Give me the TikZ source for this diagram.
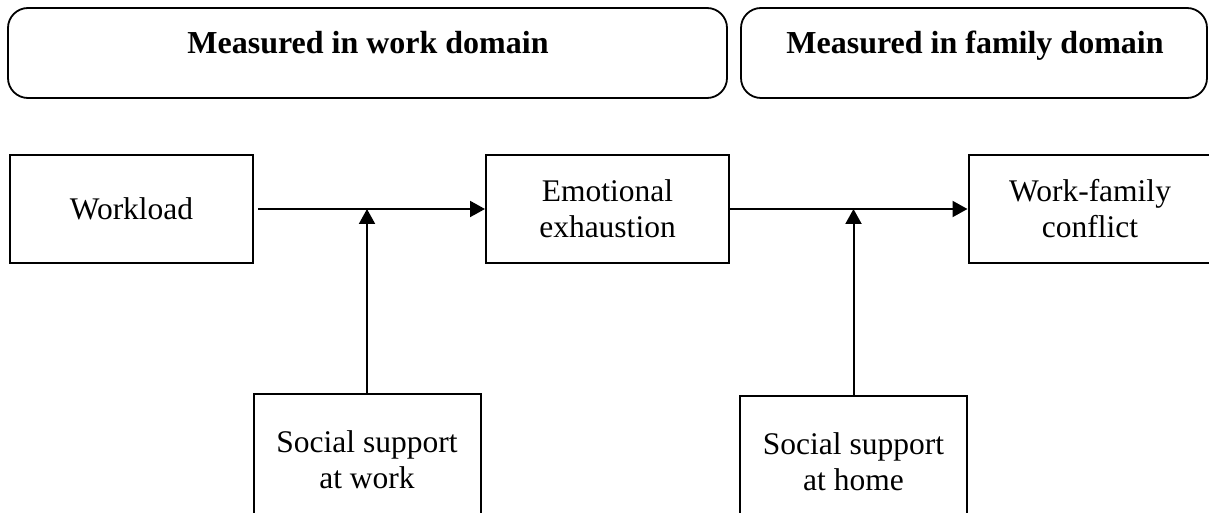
\documentclass[tikz,border=0pt]{standalone}
\usepackage{fontspec}
\setmainfont{Liberation Serif}
\usetikzlibrary{arrows.meta}
\tikzset{
  box/.style={draw=black,line width=1pt,minimum width=121.5pt,minimum height=54pt,
    inner sep=0pt,align=center,font=\fontsize{15.75}{18}\selectfont},
  lowbox/.style={box,minimum width=113.5pt,minimum height=66pt},
  dombox/.style={draw=black,line width=0.9pt,rounded corners=10pt,minimum height=45pt,inner sep=0pt},
  domlabel/.style={anchor=base,inner sep=0pt,font=\fontsize{16}{19}\selectfont\bfseries},
  arr/.style={line width=1pt,-{Triangle[length=7.5pt,width=8pt]}}
}
\begin{document}
\begin{tikzpicture}[x=0.5pt,y=-0.5pt]
  \useasboundingbox (0,0) rectangle (1209,513);
  \clip (0,0) rectangle (1209,513);
  % domain headers
  \node [dombox,minimum width=359.5pt] (workdom) at (367.5,53) {};
  \node [dombox,minimum width=233pt] (famdom) at (974,53) {};
  \node [domlabel] (worklab) at (368,54) {Measured in work domain};
  \node [domlabel] (famlab) at (975,54) {Measured in family domain};
  % main chain
  \node [box] (wl) at (131.5,209) {Workload};
  \node [box] (ee) at (607.5,209) {Emotional\\exhaustion};
  \node [box] (wfc) at (1090,209) {Work-family\\conflict};
  \draw [arr,shorten <=2pt] (wl.east) -- (ee.west);
  \draw [arr] (ee.east) -- (wfc.west);
  % moderators
  \node [lowbox] (ssw) at (367,460) {Social support\\at work};
  \node [lowbox] (ssh) at (853.5,462) {Social support\\at home};
  \draw [arr] (ssw.north) -- (ssw.north |- wl.east);
  \draw [arr] (ssh.north) -- (ssh.north |- ee.east);
\end{tikzpicture}
\end{document}
